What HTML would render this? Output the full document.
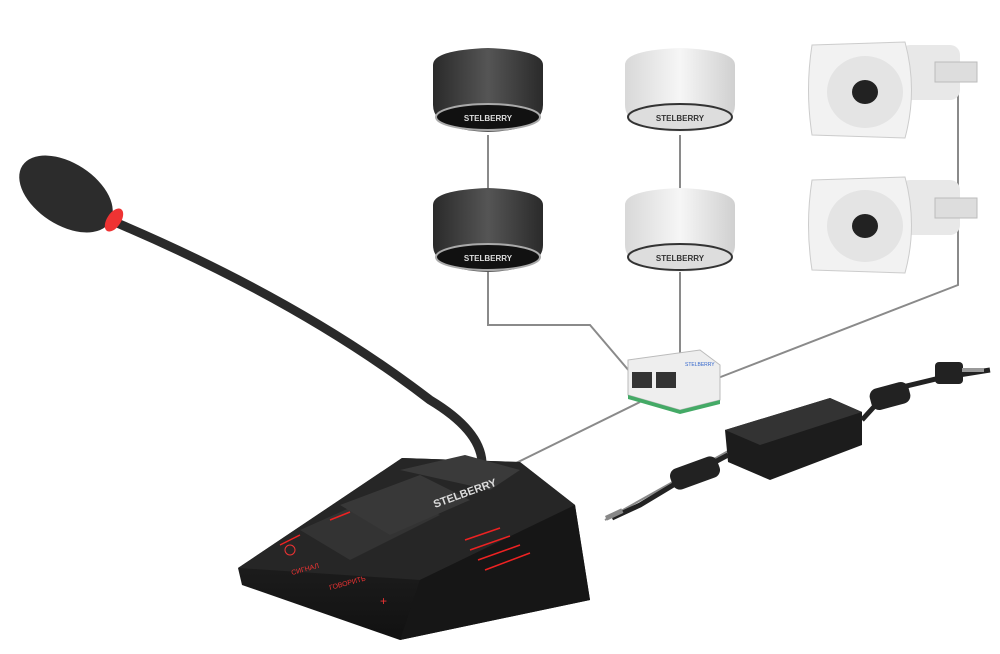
<!DOCTYPE html>
<html><head><meta charset="utf-8"><style>html,body{margin:0;padding:0;background:#fff;width:1000px;height:654px;overflow:hidden}</style></head>
<body>
<svg width="1000" height="654" viewBox="0 0 1000 654" xmlns="http://www.w3.org/2000/svg">
<defs>
<linearGradient id="dk" x1="0" x2="1"><stop offset="0" stop-color="#2a2a2a"/><stop offset=".5" stop-color="#555"/><stop offset="1" stop-color="#2a2a2a"/></linearGradient>
<linearGradient id="wt" x1="0" x2="1"><stop offset="0" stop-color="#d8d8d8"/><stop offset=".5" stop-color="#f6f6f6"/><stop offset="1" stop-color="#d0d0d0"/></linearGradient>
<linearGradient id="cb" x1="0" y1="0" x2="0" y2="1"><stop offset="0" stop-color="#2c2c2c"/><stop offset="1" stop-color="#111"/></linearGradient>
</defs>
<g fill="none" stroke="#8a8a8a" stroke-width="2">
<path d="M488 135V190M488 270V325H590L630 372"/>
<path d="M680 135V190M680 270V356"/>
<path d="M958 85V285L718 378"/>
<path d="M640 402L512 465"/>
<path d="M605 520L730 450"/>
</g>
<g>
<path d="M433 65Q433 50 488 48Q543 50 543 65V105Q543 130 488 132Q433 130 433 105Z" fill="url(#dk)"/>
<ellipse cx="488" cy="117" rx="52" ry="13" fill="#111" stroke="#aaa" stroke-width="2"/>
<text x="488" y="121" font-family="Liberation Sans,sans-serif" font-size="8" font-weight="bold" fill="#ddd" text-anchor="middle">STELBERRY</text>
<path d="M433 205Q433 190 488 188Q543 190 543 205V245Q543 270 488 272Q433 270 433 245Z" fill="url(#dk)"/>
<ellipse cx="488" cy="257" rx="52" ry="13" fill="#111" stroke="#aaa" stroke-width="2"/>
<text x="488" y="261" font-family="Liberation Sans,sans-serif" font-size="8" font-weight="bold" fill="#ddd" text-anchor="middle">STELBERRY</text>
</g>
<g>
<path d="M625 65Q625 50 680 48Q735 50 735 65V105Q735 130 680 132Q625 130 625 105Z" fill="url(#wt)"/>
<ellipse cx="680" cy="117" rx="52" ry="13" fill="#ddd" stroke="#333" stroke-width="2"/>
<text x="680" y="121" font-family="Liberation Sans,sans-serif" font-size="8" font-weight="bold" fill="#333" text-anchor="middle">STELBERRY</text>
<path d="M625 205Q625 190 680 188Q735 190 735 205V245Q735 270 680 272Q625 270 625 245Z" fill="url(#wt)"/>
<ellipse cx="680" cy="257" rx="52" ry="13" fill="#ddd" stroke="#333" stroke-width="2"/>
<text x="680" y="261" font-family="Liberation Sans,sans-serif" font-size="8" font-weight="bold" fill="#333" text-anchor="middle">STELBERRY</text>
</g>
<g>
<rect x="900" y="45" width="60" height="55" rx="10" fill="#e8e8e8"/>
<rect x="935" y="62" width="42" height="20" fill="#ddd" stroke="#bbb"/>
<path d="M812 45L905 42Q918 90 905 138L812 135Q805 90 812 45Z" fill="#f2f2f2" stroke="#ccc"/>
<ellipse cx="865" cy="92" rx="38" ry="36" fill="#e4e4e4"/>
<ellipse cx="865" cy="92" rx="13" ry="12" fill="#222"/>
<rect x="900" y="180" width="60" height="55" rx="10" fill="#e8e8e8"/>
<rect x="935" y="198" width="42" height="20" fill="#ddd" stroke="#bbb"/>
<path d="M812 180L905 177Q918 225 905 273L812 270Q805 225 812 180Z" fill="#f2f2f2" stroke="#ccc"/>
<ellipse cx="865" cy="226" rx="38" ry="36" fill="#e4e4e4"/>
<ellipse cx="865" cy="226" rx="13" ry="12" fill="#222"/>
</g>
<path d="M628 360L700 350L720 365V400L680 410L628 395Z" fill="#eee" stroke="#bbb"/>
<rect x="632" y="372" width="20" height="16" fill="#333"/><rect x="656" y="372" width="20" height="16" fill="#333"/>
<path d="M628 395L680 410L720 400V404L680 414L628 399Z" fill="#4a6"/>
<text x="685" y="366" font-family="Liberation Sans,sans-serif" font-size="5" fill="#36c">STELBERRY</text>
<path d="M725 430L830 398L862 412V445L770 480L728 462Z" fill="#1c1c1c"/>
<path d="M725 430L830 398L862 412L760 445Z" fill="#333"/>
<path d="M862 420Q880 400 890 390L940 378L990 370" fill="none" stroke="#222" stroke-width="5"/>
<rect x="870" y="385" width="40" height="22" rx="8" fill="#222" transform="rotate(-15 890 396)"/>
<rect x="935" y="362" width="28" height="22" rx="4" fill="#222"/>
<rect x="962" y="368" width="22" height="4" fill="#999"/>
<path d="M728 455Q700 470 690 475L640 505L612 518" fill="none" stroke="#222" stroke-width="5"/>
<rect x="670" y="462" width="50" height="22" rx="8" fill="#222" transform="rotate(-20 695 473)"/>
<rect x="605" y="512" width="18" height="5" fill="#888" transform="rotate(-25 614 514)"/>
<path d="M110 220Q300 300 430 400Q480 430 482 462" fill="none" stroke="#2a2a2a" stroke-width="9"/>
<ellipse cx="66" cy="194" rx="52" ry="31" transform="rotate(33 66 194)" fill="#2c2c2c"/>
<ellipse cx="114" cy="220" rx="7" ry="13" transform="rotate(33 114 220)" fill="#e33"/>
<path d="M238 568L402 458L520 462L575 505L590 600L400 640L242 585Z" fill="url(#cb)"/>
<path d="M238 568L402 458L520 462L575 505L420 580Z" fill="#262626"/>
<path d="M400 470L465 455L520 470L490 490Z" fill="#3a3a3a"/>
<path d="M420 580L575 505L590 600L400 640Z" fill="#161616"/>
<path d="M300 530L390 490L440 515L350 560Z" fill="#333"/>
<path d="M340 505L420 475L470 500L390 535Z" fill="#383838"/>
<text x="435" y="508" font-family="Liberation Sans,sans-serif" font-size="11" font-weight="bold" fill="#ddd" transform="rotate(-20 435 508)">STELBERRY</text>
<g stroke="#e22" stroke-width="1.5">
<path d="M465 540L500 528M470 550L510 536M478 560L520 545M485 570L530 553M280 545L300 535M330 520L350 512"/>
</g>
<text x="292" y="575" font-family="Liberation Sans,sans-serif" font-size="7" fill="#e33" transform="rotate(-15 292 575)">СИГНАЛ</text>
<text x="330" y="590" font-family="Liberation Sans,sans-serif" font-size="7" fill="#e33" transform="rotate(-15 330 590)">ГОВОРИТЬ</text>
<text x="380" y="605" font-family="Liberation Sans,sans-serif" font-size="12" fill="#e33">+</text>
<circle cx="290" cy="550" r="5" fill="none" stroke="#e33"/>
</svg>
</body></html>
